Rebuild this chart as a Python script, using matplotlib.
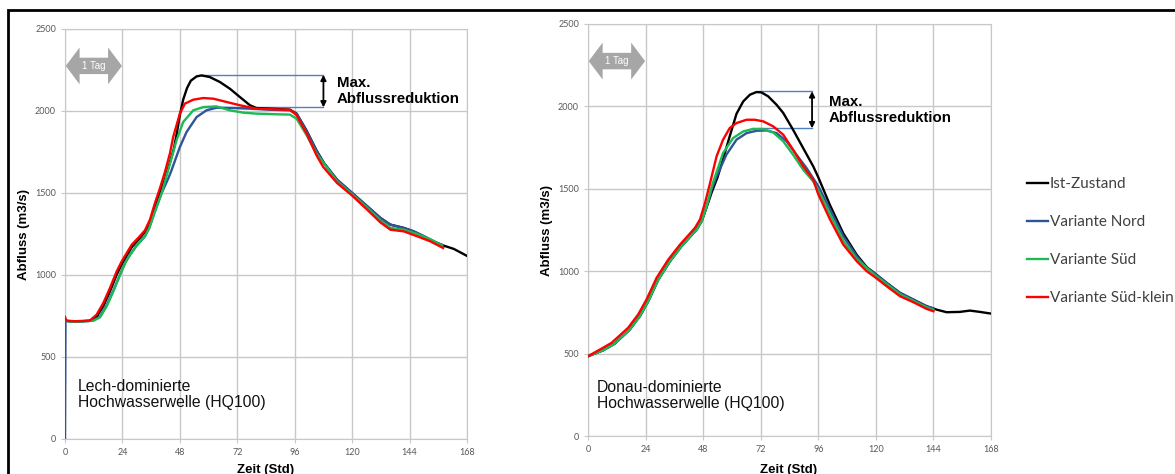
import numpy as np
import matplotlib.pyplot as plt
from matplotlib.patches import Polygon, Rectangle

# ---- Lech-dominierte Welle (links) ----
lech_ist_h = [0, 0.5, 4, 10, 13, 16, 18.8, 21.6, 23.7, 25.8, 27.9, 30.6, 33.4, 35.5, 37.6, 39.7, 41.8, 43.9, 45.5,
              46.8, 48, 49.4, 51, 52.6, 55.0, 57.1, 60.5, 64.7, 68.9, 73.1, 77.3, 80.0, 85.6, 94.0, 96.8, 100.9,
              105.1, 108.2, 113.7, 120, 126.3, 131.8, 136, 141.6, 145.7, 150, 154.1, 158.3, 162.5, 167.8]
lech_ist_v = [735, 720, 716, 720, 740, 810, 900, 1002, 1065, 1118, 1170, 1214, 1262, 1320, 1415, 1505, 1585, 1690,
              1770, 1870, 1975, 2070, 2140, 2185, 2211, 2217, 2207, 2177, 2136, 2085, 2035, 2018, 2014, 2008, 1984,
              1882, 1760, 1683, 1581, 1500, 1419, 1348, 1307, 1287, 1266, 1236, 1205, 1179, 1159, 1118]

lech_nord_h = [0, 0.2, 4, 10, 12, 14.6, 17.4, 20.2, 23, 25.1, 27.2, 29.9, 33.4, 35.2, 37.6, 40.4, 43.2, 44.5, 48,
               50.8, 55, 59.1, 63.3, 70.3, 77.3, 85.6, 94, 96.8, 101, 105.1, 108.2, 113.7, 120, 126.3, 131.8,
               136, 141.6, 145.7, 150, 154.1, 157.5]
lech_nord_v = [0, 720, 716, 720, 724, 745, 815, 905, 1002, 1073, 1124, 1179, 1236, 1287, 1388, 1500, 1590, 1638,
               1780, 1872, 1963, 2004, 2020, 2018, 2014, 2008, 2004, 1982, 1878, 1756, 1683, 1581, 1500, 1419, 1348,
               1307, 1287, 1266, 1236, 1205, 1182]

lech_sued_h = [0, 0.5, 4, 10, 12, 14.6, 17.4, 20.2, 23, 25.1, 27.2, 29.9, 33.4, 35.2, 37.6, 40.4, 43.1, 46.6, 49.4,
               53.6, 57.8, 63.3, 68.9, 74.5, 80, 88.4, 94, 96.8, 101, 105.1, 109.3, 113.7, 120, 126.3, 131.8,
               136, 141.6, 147.2, 152.7, 157.6]
lech_sued_v = [730, 720, 716, 720, 722, 742, 809, 900, 1002, 1073, 1124, 1179, 1236, 1287, 1388, 1500, 1638, 1821,
               1933, 2004, 2024, 2028, 2004, 1990, 1984, 1980, 1978, 1953, 1852, 1740, 1659, 1571, 1492, 1410, 1333,
               1287, 1276, 1250, 1218, 1179]

lech_klein_h = [0, 0.5, 4, 10.4, 13.2, 16, 18.8, 21.6, 23.7, 25.8, 27.9, 30.6, 33.4, 35.5, 37.6, 39.7, 41.7,
                43.9, 45.2, 48, 50.1, 53.6, 57.8, 62, 67.5, 73.1, 80, 91.2, 94, 96.8, 101, 105.1, 107.9, 113.7,
                120, 126.3, 131.8, 136, 141.6, 147.2, 152.7, 158]
lech_klein_v = [745, 722, 718, 722, 758, 829, 921, 1022, 1083, 1134, 1185, 1226, 1272, 1337, 1439, 1530, 1625,
                1744, 1841, 1984, 2045, 2069, 2079, 2075, 2055, 2035, 2014, 2008, 2008, 1974, 1862, 1730, 1659, 1561,
                1484, 1398, 1321, 1276, 1266, 1236, 1205, 1165]

# ---- Donau-dominierte Welle (rechts) ----
donau_ist_h = [0, 6.3, 11.2, 17.4, 21.6, 25.1, 29.3, 34.2, 39, 45.3, 47.4, 49.5, 51.6, 54, 56.3, 59.1, 61.9, 64.7,
               67.5, 70.2, 72.3, 75.1, 78.6, 81.4, 85.5, 89.7, 93.9, 96, 100.9, 106.4, 112, 116.2, 120, 124.5,
               130.1, 135.6, 141.2, 145.3, 149.5, 155, 159.2, 163.4, 167.9]
donau_ist_v = [484, 520, 561, 646, 727, 818, 949, 1061, 1152, 1253, 1304, 1390, 1480, 1570, 1680, 1820, 1955, 2030,
               2071, 2087, 2085, 2061, 2010, 1960, 1858, 1747, 1636, 1570, 1400, 1230, 1100, 1025, 982, 929,
               868, 828, 787, 767, 751, 753, 761, 753, 743]

donau_nord_h = [0, 6.3, 11.2, 17.4, 21.6, 25.1, 29.3, 34.2, 39, 45.3, 47.4, 49.5, 51.6, 53.6, 57.7, 61.9, 66.1,
                70.2, 74.4, 78.6, 82.8, 86.9, 91.1, 96, 100.9, 106.4, 112, 116.2, 120, 124.5, 130.1, 135.6,
                141.2, 144]
donau_nord_v = [484, 520, 561, 646, 727, 818, 949, 1061, 1152, 1253, 1304, 1395, 1500, 1575, 1707, 1798, 1838,
                1852, 1854, 1838, 1788, 1707, 1626, 1516, 1374, 1213, 1091, 1020, 980, 929, 868, 828, 787, 775]

donau_sued_h = [0, 6.3, 11.2, 17.4, 21.6, 25.1, 29.3, 34.2, 39, 45.3, 47.4, 49.5, 51.6, 56.3, 60.5, 64.7, 68.9,
                73.1, 77.2, 81.4, 85.5, 89.7, 93.9, 96, 100.9, 106.4, 112, 120, 130.1, 141.2, 144]
donau_sued_v = [484, 520, 561, 646, 727, 818, 949, 1061, 1152, 1253, 1304, 1395, 1516, 1717, 1808, 1848, 1864,
                1862, 1842, 1788, 1707, 1616, 1545, 1490, 1345, 1185, 1075, 972, 860, 780, 765]

donau_klein_h = [0, 4.9, 9.8, 16.7, 20.9, 24.4, 28.6, 33.5, 38.4, 44.6, 46.7, 48.8, 50.9, 53.6, 56.3, 59.1, 61.9,
                 66.1, 69.5, 73.1, 77.2, 81.4, 85.5, 89.7, 93.9, 96, 100.9, 106.4, 112, 116.2, 120, 124.5, 130.1,
                 135.6, 141.2, 144]
donau_klein_v = [484, 524, 565, 656, 737, 828, 960, 1071, 1162, 1263, 1314, 1415, 1536, 1697, 1798, 1869, 1899,
                 1919, 1919, 1909, 1879, 1828, 1737, 1636, 1555, 1466, 1314, 1162, 1061, 1000, 960, 909, 848,
                 812, 771, 757]

labels = ["Ist-Zustand", "Variante Nord", "Variante Süd", "Variante Süd-klein"]
colors = ["#000000", "#2F5597", "#1DB954", "#FF0000"]

panels = [
    dict(series=[(lech_ist_h, lech_ist_v), (lech_nord_h, lech_nord_v), (lech_sued_h, lech_sued_v),
                 (lech_klein_h, lech_klein_v)],
         title="Lech-dominierte\nHochwasserwelle (HQ100)", title_xy=(5.4, 365),
         red_x=(57.3, 108), red_y=(2221, 2022), text_x=113.5,
         pos=[65 / 1175, 1 - 439 / 474, 402 / 1175, 410 / 474], ylab_x=24 / 1175, xlab_x=266 / 1175),
    dict(series=[(donau_ist_h, donau_ist_v), (donau_nord_h, donau_nord_v), (donau_sued_h, donau_sued_v),
                 (donau_klein_h, donau_klein_v)],
         title="Donau-dominierte\nHochwasserwelle (HQ100)", title_xy=(3.7, 340),
         red_x=(70.9, 93.4), red_y=(2092, 1867), text_x=100.3,
         pos=[588 / 1175, 1 - 436 / 474, 403 / 1175, 412 / 474], ylab_x=547 / 1175, xlab_x=789 / 1175),
]

xticks = [0, 24, 48, 72, 96, 120, 144, 168]
yticks = [0, 500, 1000, 1500, 2000, 2500]

fig = plt.figure(figsize=(11.75, 4.74), dpi=100)
grid_c = "#C8C8C8"
handles = []

for p in panels:
    ax = fig.add_axes(p["pos"])
    for (h, v), c, lab in zip(p["series"], colors, labels):
        ln, = ax.plot(h, v, color=c, lw=1.7, label=lab, zorder=3)
        if len(handles) < 4:
            handles.append(ln)
    ax.set_xlim(0, 168)
    ax.set_ylim(0, 2500)
    ax.set_xticks(xticks)
    ax.set_yticks(yticks)
    ax.grid(True, color=grid_c, lw=1)
    ax.set_axisbelow(True)
    for s in ax.spines.values():
        s.set_color(grid_c)
    ax.tick_params(labelsize=6.5, labelcolor="#595959", color=grid_c, length=3)
    for t in ax.get_xticklabels() + ax.get_yticklabels():
        t.set_family("Lato")
    fig.text(p["ylab_x"], p["pos"][1] + p["pos"][3] / 2, "Abfluss (m3/s)", rotation=90, ha="center",
             va="center", fontsize=9.5, fontweight="bold", family="Liberation Sans")
    fig.text(p["xlab_x"], 1 - 470 / 474, "Zeit (Std)", ha="center", va="center", fontsize=9.5,
             fontweight="bold", family="Liberation Sans")

    # "1 Tag" arrow
    x0, x1, yc, hw, bw, hl = 0.3, 23.8, 2275, 112, 50, 5.8
    arrow = Polygon([(x0, yc), (x0 + hl, yc + hw), (x0 + hl, yc + bw), (x1 - hl, yc + bw), (x1 - hl, yc + hw),
                     (x1, yc), (x1 - hl, yc - hw), (x1 - hl, yc - bw), (x0 + hl, yc - bw), (x0 + hl, yc - hw)],
                    closed=True, facecolor="#A6A6A6", edgecolor="none", zorder=4)
    ax.add_patch(arrow)
    ax.text((x0 + x1) / 2, yc, "1 Tag", color="white", fontsize=7, ha="center", va="center",
            family="Liberation Sans", zorder=5)

    # max reduction marker
    rx0, rx1 = p["red_x"]
    ry0, ry1 = p["red_y"]
    ax.plot([rx0, rx1], [ry0, ry0], color="#4F81BD", lw=1, zorder=2)
    ax.plot([rx0, rx1], [ry1, ry1], color="#4F81BD", lw=1, zorder=2)
    ax.annotate("", xy=(rx1, ry0), xytext=(rx1, ry1),
                arrowprops=dict(arrowstyle="<|-|>", color="black", lw=1.3, mutation_scale=8,
                                shrinkA=0, shrinkB=0), zorder=5)
    ax.text(p["text_x"], (ry0 + ry1) / 2, "Max.\nAbflussreduktion", fontsize=10.8, fontweight="bold",
            ha="left", va="center", linespacing=1.15, family="Liberation Sans", zorder=5)

    ax.text(p["title_xy"][0], p["title_xy"][1], p["title"], fontsize=11.3, ha="left", va="top",
            linespacing=1.1, family="Liberation Sans", color="#111111", zorder=5)

leg = fig.legend(handles=handles, loc="upper left", bbox_to_anchor=(1027 / 1175, 1 - 177 / 474),
                 frameon=False, prop={"family": "Lato", "size": 11}, handlelength=1.4, handletextpad=0.1,
                 labelspacing=1.57, borderpad=0, borderaxespad=0)
for t in leg.get_texts():
    t.set_color("#404040")

fig.patches.append(Rectangle((8 / 1175, -0.1), 1.2, 1.1 - 10 / 474, transform=fig.transFigure,
                             fill=False, edgecolor="black", lw=2, clip_on=False))

fig.savefig("out.png", dpi=100)
